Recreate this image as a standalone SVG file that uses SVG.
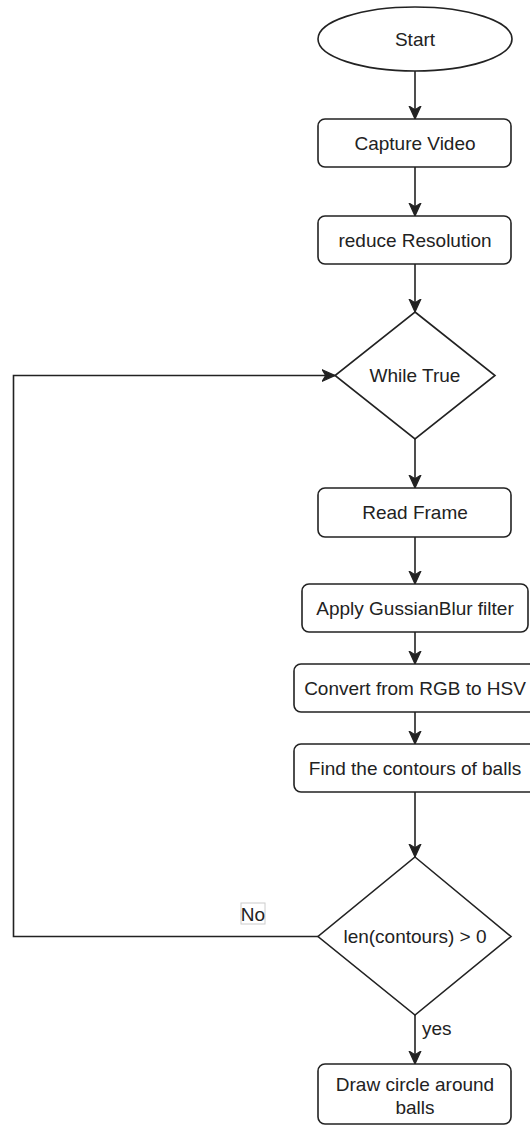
<svg xmlns="http://www.w3.org/2000/svg" width="530" height="1126" viewBox="0 0 530 1126">
<style>
.shape{fill:#fff;stroke:#222;stroke-width:1.6}
.lbl{font-family:"Liberation Sans",Arial,sans-serif;font-size:19px;fill:#222;text-anchor:middle}
.edge{fill:none;stroke:#222;stroke-width:1.6}
.elbl{font-family:"Liberation Sans",Arial,sans-serif;font-size:19px;fill:#222}
</style>
<defs>
<marker id="arr" markerUnits="userSpaceOnUse" markerWidth="14" markerHeight="14" viewBox="0 0 12 12" refX="11" refY="6" orient="auto">
<path d="M0,1 L11,6 L0,11 L3,6 Z" fill="#222" stroke="#222" stroke-width="1"/>
</marker>
</defs>
<rect width="530" height="1126" fill="#fff"/>
<g id="connectors">
<path class="edge" d="M415,71 V119" marker-end="url(#arr)"/>
<path class="edge" d="M415,167 V216" marker-end="url(#arr)"/>
<path class="edge" d="M415,264 V312" marker-end="url(#arr)"/>
<path class="edge" d="M415,439 V488" marker-end="url(#arr)"/>
<path class="edge" d="M415,537 V584" marker-end="url(#arr)"/>
<path class="edge" d="M415,632 V664" marker-end="url(#arr)"/>
<path class="edge" d="M415,712 V744" marker-end="url(#arr)"/>
<path class="edge" d="M415,792 V857" marker-end="url(#arr)"/>
<path class="edge" d="M318,936.5 H13.5 V375.5 H335" marker-end="url(#arr)"/>
<path class="edge" d="M415,1015 V1064" marker-end="url(#arr)"/>
<g id="label-no">
<rect x="241" y="903" width="24" height="21" fill="#fff" stroke="#ccc" stroke-width="1"/>
<text class="lbl" x="253" y="920.5">No</text>
</g>
<text class="elbl" x="422" y="1035">yes</text>
</g>
<g id="start">
<ellipse class="shape" cx="415" cy="39" rx="97" ry="32"/>
<text class="lbl" x="415" y="45.8">Start</text>
</g>
<g id="capture-video">
<rect class="shape" x="318" y="119" width="193" height="48" rx="7"/>
<text class="lbl" x="415" y="149.8">Capture Video</text>
</g>
<g id="reduce-resolution">
<rect class="shape" x="318" y="216" width="193" height="48" rx="7"/>
<text class="lbl" x="415" y="246.8">reduce Resolution</text>
</g>
<g id="while-true">
<polygon class="shape" points="415,312 495,375.5 415,439 335,375.5"/>
<text class="lbl" x="415" y="382.3">While True</text>
</g>
<g id="read-frame">
<rect class="shape" x="318" y="488" width="193" height="49" rx="7"/>
<text class="lbl" x="415" y="519.3">Read Frame</text>
</g>
<g id="apply-blur">
<rect class="shape" x="302" y="584" width="226" height="48" rx="7"/>
<text class="lbl" x="415" y="614.8">Apply GussianBlur filter</text>
</g>
<g id="convert-hsv">
<rect class="shape" x="294" y="664" width="242" height="48" rx="7"/>
<text class="lbl" x="415" y="694.8">Convert from RGB to HSV</text>
</g>
<g id="find-contours">
<rect class="shape" x="294" y="744" width="242" height="48" rx="7"/>
<text class="lbl" x="415" y="774.8">Find the contours of balls</text>
</g>
<g id="len-contours">
<polygon class="shape" points="415,857 511,936.5 415,1015 318,936.5"/>
<text class="lbl" x="415" y="943.3">len(contours) &gt; 0</text>
</g>
<g id="draw-circle">
<rect class="shape" x="318" y="1064" width="193" height="60" rx="7"/>
<text class="lbl" x="415" y="1091">Draw circle around</text>
<text class="lbl" x="415" y="1114">balls</text>
</g>
</svg>
